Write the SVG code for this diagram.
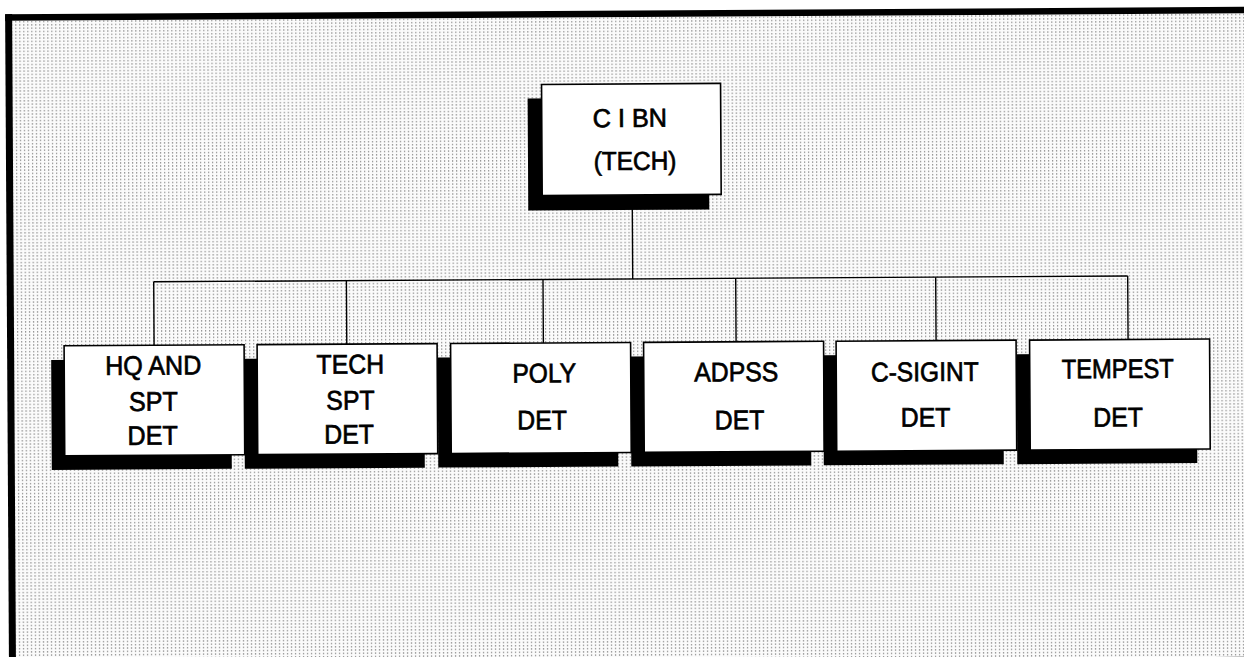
<svg xmlns="http://www.w3.org/2000/svg" width="1244" height="657" viewBox="0 0 1244 657">
<defs>
<pattern id="dots" width="4" height="3.3" patternUnits="userSpaceOnUse">
<rect width="4" height="3.3" fill="#fbfbfb"/>
<rect x="1" y="1" width="1.2" height="1.2" fill="#7a7a7a"/>
</pattern>
<style>
.frame{fill:#000}
.box{fill:#fff;stroke:#000;stroke-width:1.6}
.sh{fill:#000}
.ln{fill:none;stroke:#000;stroke-width:1.4}
.t{font-family:"Liberation Sans",Arial,Helvetica,sans-serif;font-size:27px;text-anchor:middle;fill:#000;stroke:#000;stroke-width:0.7}
.tt{font-family:"Liberation Sans",Arial,Helvetica,sans-serif;font-size:26px;text-anchor:middle;fill:#000;stroke:#000;stroke-width:0.7}
</style>
</defs>
<rect width="1244" height="657" fill="#fff"/>
<g transform="rotate(-0.34 622 330)">
<g id="background">
<rect x="14" y="17" width="1240" height="645" fill="url(#dots)"/>
<rect class="frame" x="7" y="10.5" width="1250" height="6.5"/>
<rect class="frame" x="7" y="10.5" width="7" height="660"/>
<rect class="frame" x="7" y="660.5" width="1250" height="5"/>
</g>
<g id="connectors">
<line class="ln" x1="633" y1="195" x2="633" y2="279"/>
<line class="ln" x1="154" y1="279" x2="1128" y2="279"/>
<line class="ln" x1="154" y1="279" x2="154" y2="342.5"/>
<line class="ln" x1="346.7" y1="279" x2="346.7" y2="342.5"/>
<line class="ln" x1="543.3" y1="279" x2="543.3" y2="342.5"/>
<line class="ln" x1="736" y1="279" x2="736" y2="342.5"/>
<line class="ln" x1="936" y1="279" x2="936" y2="342.5"/>
<line class="ln" x1="1128" y1="279" x2="1128" y2="342.5"/>
</g>
<g id="ci-bn">
<rect class="sh" x="529" y="98" width="181" height="112"/>
<rect class="box" x="543" y="84" width="179" height="111"/>
<text class="tt" transform="translate(631 0) scale(0.97 1)" x="0" y="127">C I BN</text>
<text class="tt" transform="translate(636 0) scale(0.94 1)" x="0" y="170">(TECH)</text>
</g>
<g id="hq-spt-det">
<rect class="sh" x="51" y="356.5" width="180" height="110"/>
<rect class="box" x="64" y="342.5" width="180" height="110"/>
<text class="t" transform="translate(153 0) scale(0.93 1)" x="0" y="372">HQ AND</text>
<text class="t" transform="translate(153 0) scale(0.93 1)" x="0" y="408">SPT</text>
<text class="t" transform="translate(152 0) scale(0.93 1)" x="0" y="442">DET</text>
</g>
<g id="tech-spt-det">
<rect class="sh" x="244" y="356.5" width="180" height="110"/>
<rect class="box" x="257" y="342.5" width="180" height="110"/>
<text class="t" transform="translate(350 0) scale(0.92 1)" x="0" y="372">TECH</text>
<text class="t" transform="translate(350 0) scale(0.92 1)" x="0" y="408">SPT</text>
<text class="t" transform="translate(348.5 0) scale(0.92 1)" x="0" y="442">DET</text>
</g>
<g id="poly-det">
<rect class="sh" x="437.5" y="356.5" width="180" height="110"/>
<rect class="box" x="450.5" y="342.5" width="180" height="110"/>
<text class="t" transform="translate(544 0) scale(0.91 1)" x="0" y="382">POLY</text>
<text class="t" transform="translate(541.5 0) scale(0.92 1)" x="0" y="429">DET</text>
</g>
<g id="adpss-det">
<rect class="sh" x="630.5" y="356.5" width="180" height="110"/>
<rect class="box" x="643.5" y="342.5" width="180" height="110"/>
<text class="t" transform="translate(736 0) scale(0.92 1)" x="0" y="382">ADPSS</text>
<text class="t" transform="translate(739 0) scale(0.92 1)" x="0" y="430">DET</text>
</g>
<g id="c-sigint-det">
<rect class="sh" x="823" y="356.5" width="180" height="110"/>
<rect class="box" x="836" y="342.5" width="180" height="110"/>
<text class="t" transform="translate(924.5 0) scale(0.91 1)" x="0" y="383">C-SIGINT</text>
<text class="t" transform="translate(925 0) scale(0.92 1)" x="0" y="428.5">DET</text>
</g>
<g id="tempest-det">
<rect class="sh" x="1016.5" y="356.5" width="180" height="110"/>
<rect class="box" x="1029.5" y="342.5" width="180" height="110"/>
<text class="t" transform="translate(1117.5 0) scale(0.88 1)" x="0" y="381">TEMPEST</text>
<text class="t" transform="translate(1117.5 0) scale(0.92 1)" x="0" y="429.5">DET</text>
</g>
</g>
</svg>
